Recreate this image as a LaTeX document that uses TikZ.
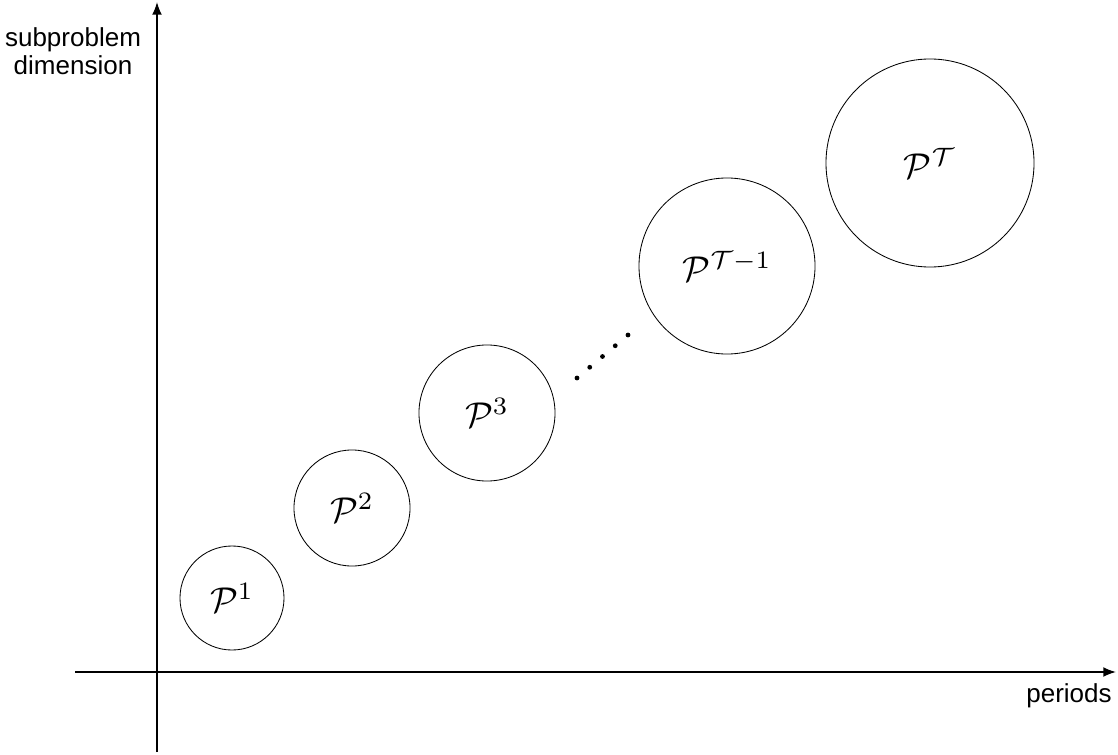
\documentclass[tikz,border=0pt]{standalone}
\usepackage{graphicx}
\usepackage[no-math]{fontspec}
\setmainfont{Liberation Sans}
\usetikzlibrary{arrows.meta}
\newcommand{\subprobtext}[1]{\scalebox{2.55}{$#1$}}
\begin{document}
\begin{tikzpicture}[x=0.025cm,y=-0.025cm,
  axis/.style={line width=1.2pt,-{Latex[length=9pt,width=7pt]}},
  sub/.style={circle,draw,line width=0.6pt,inner sep=0pt},
  lbl/.style={font=\fontsize{18.5}{22}\selectfont,align=center,inner sep=0pt}]
\useasboundingbox (0,0) rectangle (1118,755);
\coordinate (ys) at (157,752);
\coordinate (ye) at (157,2);
\coordinate (xs) at (75,672);
\coordinate (xe) at (1116,672);
\draw[axis] (ys) -- (ye);
\draw[axis] (xs) -- (xe);
\node[lbl] (ylab) at (73,51) {subproblem\\[-2pt]dimension};
\node[lbl] (xlab) at (1069,696) {periods};
\node[sub,minimum size=2.6cm] (p1) at (232,598) {\subprobtext{\mathcal{P}^1}};
\node[sub,minimum size=2.9cm] (p2) at (352,508) {\subprobtext{\mathcal{P}^2}};
\node[sub,minimum size=3.4cm] (p3) at (487,413) {\subprobtext{\mathcal{P}^3}};
\node[sub,minimum size=4.4cm] (pT1) at (727,266) {\subprobtext{\mathcal{P}^{\mathcal{T}-1}}};
\node[sub,minimum size=5.2cm] (pT) at (930,163) {\subprobtext{\mathcal{P}^{\mathcal{T}}}};
\foreach \i in {0,...,4}
  \fill ({577+12.75*\i},{378-10.75*\i}) circle (2.4);
\end{tikzpicture}
\end{document}
